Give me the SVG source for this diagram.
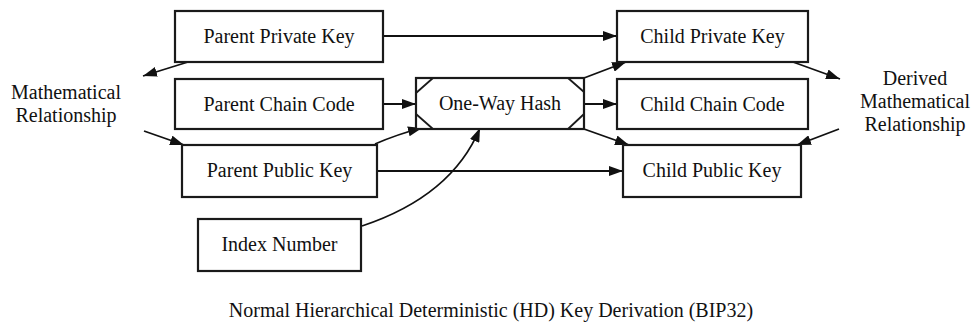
<svg xmlns="http://www.w3.org/2000/svg" width="971" height="324" viewBox="0 0 971 324">
  <style>
    .box { fill: #fff; stroke: #1a1a1a; stroke-width: 2.2; }
    .lbl { font-family: "Liberation Serif", "Times New Roman", serif; font-size: 20px; fill: #111; text-anchor: middle; }
    .edge { fill: none; stroke: #111; stroke-width: 1.8; marker-end: url(#arrow); }
  </style>
  <defs>
    <marker id="arrow" viewBox="0 0 14 10" refX="14" refY="5" markerWidth="14" markerHeight="10" markerUnits="userSpaceOnUse" orient="auto">
      <path d="M0,0 L14,5 L0,10 Z" fill="#111"/>
    </marker>
  </defs>
  <rect width="971" height="324" fill="#fff"/>

  <g id="connectors">
    <path class="edge" d="M383,36 L617,36"/>
    <path class="edge" d="M188,62 L143,76"/>
    <path class="edge" d="M144,131 L184,145"/>
    <path class="edge" d="M383,104 L416,104"/>
    <path class="edge" d="M375,144 Q398,134 422,128"/>
    <path class="edge" d="M362,226 Q452,196 480,128"/>
    <path class="edge" d="M377,171 L623,171"/>
    <path class="edge" d="M584,104 L617,104"/>
    <path class="edge" d="M584,78 L626,62"/>
    <path class="edge" d="M584,129 L629,145"/>
    <path class="edge" d="M793,62 L840,79"/>
    <path class="edge" d="M839,129 L797,145"/>
  </g>

  <g id="parent-private-key">
    <rect class="box" x="175" y="11" width="208" height="51"/>
    <text class="lbl" x="279" y="43">Parent Private Key</text>
  </g>
  <g id="parent-chain-code">
    <rect class="box" x="175" y="79" width="208" height="50"/>
    <text class="lbl" x="279" y="111">Parent Chain Code</text>
  </g>
  <g id="parent-public-key">
    <rect class="box" x="182" y="145" width="195" height="52"/>
    <text class="lbl" x="279.5" y="177">Parent Public Key</text>
  </g>
  <g id="index-number">
    <rect class="box" x="198" y="219" width="163" height="52"/>
    <text class="lbl" x="279.5" y="251">Index Number</text>
  </g>
  <g id="one-way-hash">
    <rect class="box" x="416" y="78" width="168" height="51"/>
    <path d="M416,93 L433,78 M416,114 L433,129 M568,78 L584,92 M584,114 L568,129" fill="none" stroke="#1a1a1a" stroke-width="1.8"/>
    <text class="lbl" x="500" y="110">One-Way Hash</text>
  </g>
  <g id="child-private-key">
    <rect class="box" x="617" y="11" width="191" height="51"/>
    <text class="lbl" x="712.5" y="43">Child Private Key</text>
  </g>
  <g id="child-chain-code">
    <rect class="box" x="617" y="79" width="191" height="50"/>
    <text class="lbl" x="712.5" y="111">Child Chain Code</text>
  </g>
  <g id="child-public-key">
    <rect class="box" x="623" y="145" width="178" height="52"/>
    <text class="lbl" x="712" y="177">Child Public Key</text>
  </g>
  <g id="mathematical-relationship">
    <text class="lbl" x="66" y="99">Mathematical</text>
    <text class="lbl" x="66" y="122">Relationship</text>
  </g>
  <g id="derived-mathematical-relationship">
    <text class="lbl" x="915" y="85">Derived</text>
    <text class="lbl" x="915" y="108">Mathematical</text>
    <text class="lbl" x="915" y="131">Relationship</text>
  </g>
  <text class="lbl" x="491" y="317">Normal Hierarchical Deterministic (HD) Key Derivation (BIP32)</text>
</svg>
